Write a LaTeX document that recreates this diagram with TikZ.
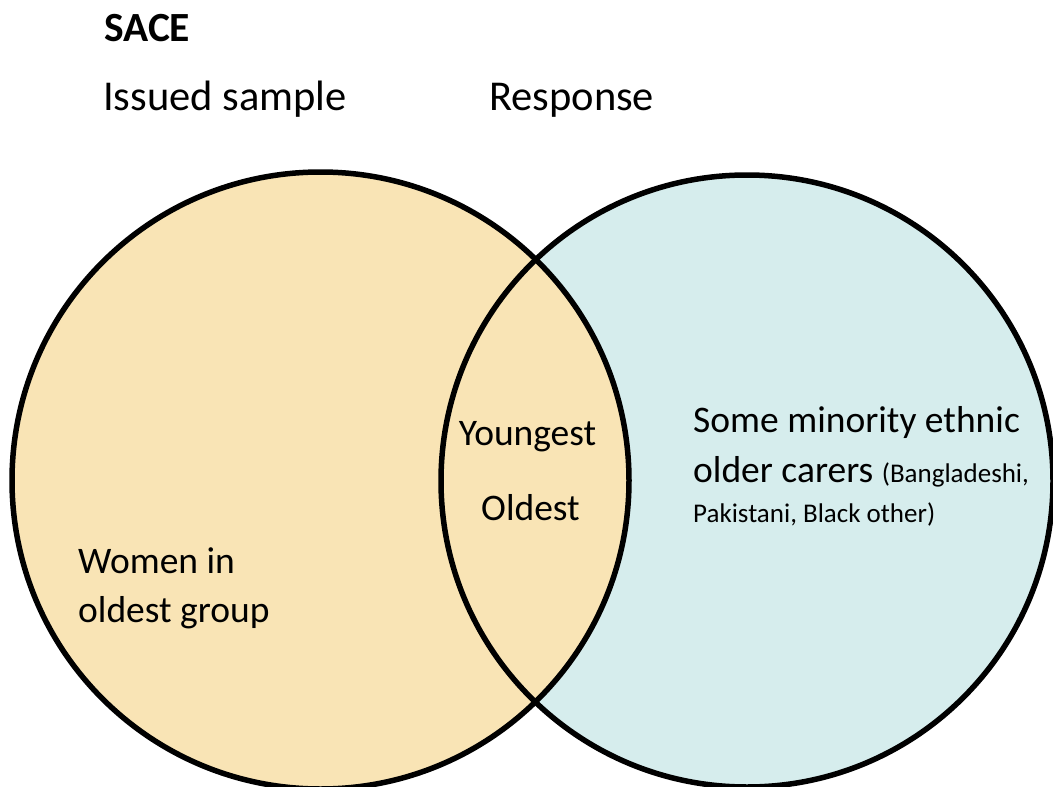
\documentclass[tikz,border=0pt]{standalone}
\usepackage{fontspec}
\setmainfont{Carlito}
\definecolor{sampfill}{RGB}{249,228,181}
\definecolor{respfill}{RGB}{214,237,237}
\tikzset{
  setring/.style={draw=black, line width=5.5pt},
  lbl/.style={anchor=base west, inner sep=0pt, font=\fontsize{37.5}{42}\selectfont},
  mid/.style={anchor=base, inner sep=0pt, font=\fontsize{37.5}{42}\selectfont},
  head/.style={anchor=base west, inner sep=0pt, font=\fontsize{42.5}{47}\selectfont},
  note/.style={anchor=base west, inner sep=0pt, font=\fontsize{27}{32}\selectfont},
}
\begin{document}
\begin{tikzpicture}[x=1pt,y=-1pt]
\useasboundingbox (0,0) rectangle (1053,787);
\begin{scope}
\clip (0,0) rectangle (1053,787);
% the two sets: fills first, the issued sample on top, then both outlines
\fill[respfill] (747,481) circle[radius=306];
\fill[sampfill] (320.5,480.5) circle[radius=308.5];
\draw[setring] (747,481) circle[radius=306];
\draw[setring] (320.5,480.5) circle[radius=308.5];
\end{scope}
% headings
\node[anchor=base west, inner sep=0pt, font=\fontsize{41.5}{46}\selectfont\bfseries] (title) at (104,41) {SACE};
\node[head] (issued) at (103,110) {Issued sample};
\node[head] (response) at (489,110) {Response};
% overlap
\node[mid] (young) at (527.5,445) {Youngest};
\node[mid] (old) at (530.5,520) {Oldest};
% left-only region
\node[lbl] (women1) at (78,573) {Women in};
\node[lbl] (women2) at (78,622) {oldest group};
% right-only region
\node[lbl] (eth1) at (693,432) {Some minority ethnic};
\node[lbl] (eth2) at (693,482) {older carers {\fontsize{27}{32}\selectfont(Bangladeshi,}};
\node[note] (eth3) at (693,522) {Pakistani, Black other)};
\end{tikzpicture}
\end{document}
